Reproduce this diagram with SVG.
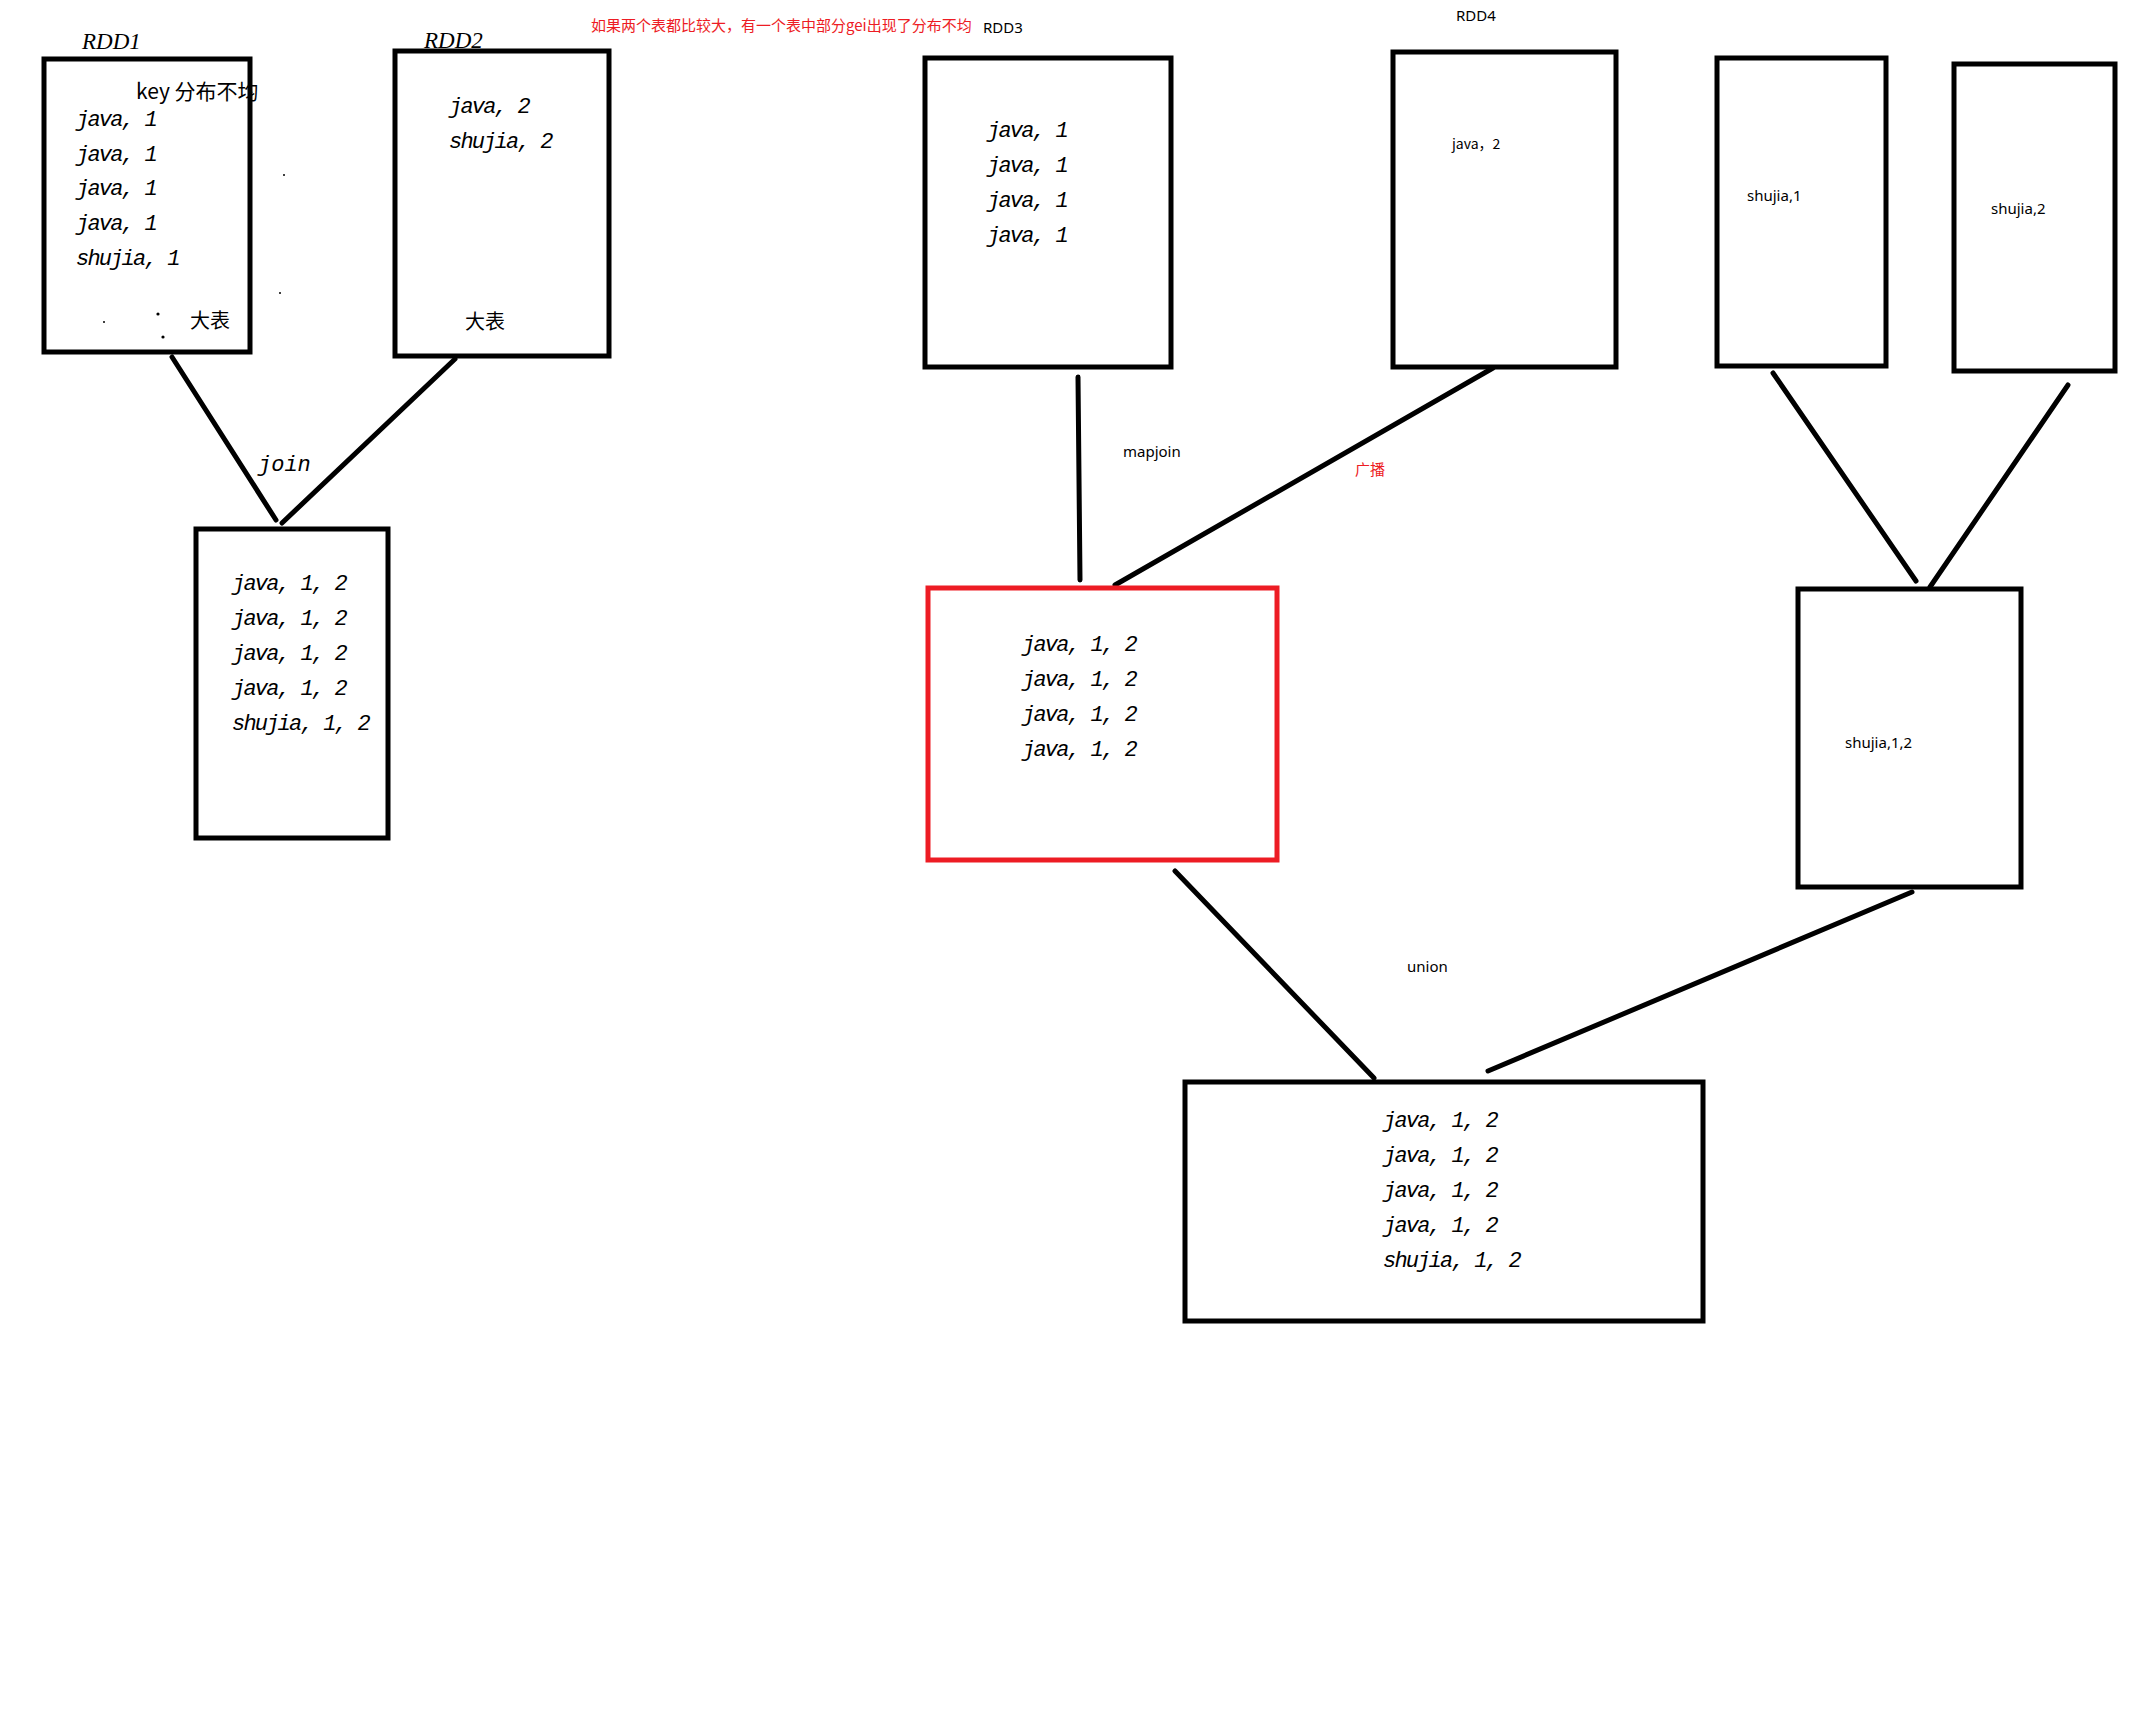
<svg xmlns="http://www.w3.org/2000/svg" width="2140" height="1720" viewBox="0 0 2140 1720">
<style>
.box{fill:none;stroke:#000;stroke-width:5}
.red{fill:none;stroke:#ED1C24;stroke-width:5}
.ln{stroke:#000;stroke-width:5;stroke-linecap:round;fill:none}
.it{font-family:"Liberation Mono",monospace;font-style:italic;font-size:22px;letter-spacing:-1.8px;fill:#000}
.lbl{font-family:"Liberation Serif",serif;font-style:italic;font-size:23px;fill:#000}
.s{font-family:"Noto Sans","Noto Sans CJK SC",sans-serif;font-size:15px;fill:#000}
.cj{font-family:"Noto Sans CJK SC",sans-serif;fill:#000}
</style>
<rect width="2140" height="1720" fill="#fff"/>
<g id="connectors">
<line class="ln" x1="172" y1="357" x2="276" y2="520"/>
<line class="ln" x1="455" y1="359" x2="282" y2="523"/>
<line class="ln" x1="1078" y1="377" x2="1080" y2="580"/>
<line class="ln" x1="1493" y1="368" x2="1115" y2="585"/>
<line class="ln" x1="1773" y1="373" x2="1916" y2="581"/>
<line class="ln" x1="2068" y1="385" x2="1930" y2="587"/>
<line class="ln" x1="1175" y1="871" x2="1374" y2="1078"/>
<line class="ln" x1="1912" y1="892" x2="1488" y2="1071"/>
<text class="it" x="258" y="471" style="letter-spacing:0">join</text>
<text class="s" x="1123" y="457">mapjoin</text>
<text class="cj" x="1355" y="475" font-size="15" style="fill:#ED1C24">广播</text>
<text class="s" x="1407" y="972">union</text>
</g>
<g id="note">
<text class="cj" x="591" y="31" font-size="15" style="fill:#ED1C24">如果两个表都比较大，有一个表中部分gei出现了分布不均</text>
</g>
<g id="rdd1">
<text class="lbl" x="82" y="49">RDD1</text>
<rect class="box" x="44" y="59" width="206" height="293"/>
<text class="cj" x="136" y="99" font-size="21">key 分布不均</text>
<text class="it" x="76" y="126">java, 1</text>
<text class="it" x="76" y="161">java, 1</text>
<text class="it" x="76" y="195">java, 1</text>
<text class="it" x="76" y="230">java, 1</text>
<text class="it" x="76" y="265">shujia, 1</text>
<text class="cj" x="190" y="328" font-size="20">大表</text>
<circle cx="284" cy="175" r="1"/>
<circle cx="280" cy="293" r="1"/>
<circle cx="104" cy="322" r="1"/>
<circle cx="158" cy="314" r="1.6"/>
<circle cx="163" cy="337" r="1.6"/>
</g>
<g id="rdd2">
<text class="lbl" x="424" y="48">RDD2</text>
<rect class="box" x="395" y="51" width="214" height="305"/>
<text class="it" x="449" y="113">java, 2</text>
<text class="it" x="449" y="148">shujia, 2</text>
<text class="cj" x="465" y="329" font-size="20">大表</text>
</g>
<g id="join-result">
<rect class="box" x="196" y="529" width="192" height="309"/>
<text class="it" x="232" y="590">java, 1, 2</text>
<text class="it" x="232" y="625">java, 1, 2</text>
<text class="it" x="232" y="660">java, 1, 2</text>
<text class="it" x="232" y="695">java, 1, 2</text>
<text class="it" x="232" y="730">shujia, 1, 2</text>
</g>
<g id="rdd3">
<text class="s" x="983" y="33">RDD3</text>
<rect class="box" x="925" y="58" width="246" height="309"/>
<text class="it" x="987" y="137">java, 1</text>
<text class="it" x="987" y="172">java, 1</text>
<text class="it" x="987" y="207">java, 1</text>
<text class="it" x="987" y="242">java, 1</text>
</g>
<g id="rdd4">
<text class="s" x="1456" y="21">RDD4</text>
<rect class="box" x="1393" y="52" width="223" height="315"/>
<text class="cj" x="1452" y="149" font-size="14">java，2</text>
</g>
<g id="shujia1">
<rect class="box" x="1717" y="58" width="169" height="308"/>
<text class="s" x="1747" y="201">shujia,1</text>
</g>
<g id="shujia2">
<rect class="box" x="1954" y="64" width="161" height="307"/>
<text class="s" x="1991" y="214">shujia,2</text>
</g>
<g id="mapjoin-result">
<rect class="red" x="928" y="588" width="349" height="272"/>
<text class="it" x="1022" y="651">java, 1, 2</text>
<text class="it" x="1022" y="686">java, 1, 2</text>
<text class="it" x="1022" y="721">java, 1, 2</text>
<text class="it" x="1022" y="756">java, 1, 2</text>
</g>
<g id="shujia12">
<rect class="box" x="1798" y="589" width="223" height="298"/>
<text class="s" x="1845" y="748">shujia,1,2</text>
</g>
<g id="union-result">
<rect class="box" x="1185" y="1082" width="518" height="239"/>
<text class="it" x="1383" y="1127">java, 1, 2</text>
<text class="it" x="1383" y="1162">java, 1, 2</text>
<text class="it" x="1383" y="1197">java, 1, 2</text>
<text class="it" x="1383" y="1232">java, 1, 2</text>
<text class="it" x="1383" y="1267">shujia, 1, 2</text>
</g>
</svg>
